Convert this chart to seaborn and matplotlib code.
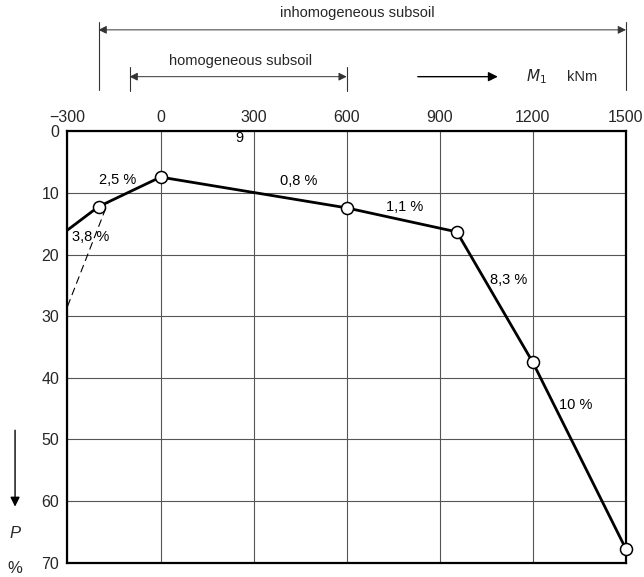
import matplotlib
matplotlib.use("Agg")
import matplotlib.pyplot as plt
import seaborn as sns
import pandas as pd

# Settlement curve P (%) against moment M1 (kNm)
moment = [-300, -200, 0, 600, 955, 1200, 1500]
settlement = [16.0, 12.2, 7.4, 12.4, 16.3, 37.5, 67.8]
marked = [False, True, True, True, True, True, True]

# dashed extrapolation of the first segment
dash_moment = [-300, -170]
dash_settlement = [28.4, 11.6]

# slope annotations: text, x, y
slope_text = ["2,5 %", "3,8 %", "0,8 %", "1,1 %", "8,3 %", "10 %", "9"]
slope_x = [-139, -227, 446, 788, 1123, 1339, 253]
slope_y = [7.9, 17.1, 8.1, 12.3, 24.1, 44.4, 1.1]

x_ticks = [-300, 0, 300, 600, 900, 1200, 1500]
x_tick_labels = ["\u2212300", "0", "300", "600", "900", "1200", "1500"]
y_ticks = [0, 10, 20, 30, 40, 50, 60, 70]

sns.set_theme(style="white")
plt.rcParams["font.family"] = ["Liberation Sans", "DejaVu Sans"]

df = pd.DataFrame({"M1": moment, "P": settlement, "marked": marked})

fig = plt.figure(figsize=(6.44, 5.77), dpi=100)
ax = fig.add_axes([0.1048, 0.0248, 0.9720 - 0.1048, 0.7721 - 0.0248])

sns.lineplot(data=df, x="M1", y="P", color="black", lw=2.0, ax=ax,
             sort=False, zorder=3)
sns.lineplot(x=dash_moment, y=dash_settlement, color="black", lw=0.8,
             linestyle=(0, (7, 4)), ax=ax, zorder=3)
pts = sns.scatterplot(data=df[df["marked"]], x="M1", y="P", s=75,
                      color="white", edgecolor="black", linewidth=1.1,
                      ax=ax, zorder=4)
for coll in ax.collections:
    coll.set_clip_on(False)

ax.set_xlim(-300, 1500)
ax.set_ylim(70, 0)
ax.set_xticks(x_ticks)
ax.set_xticklabels(x_tick_labels)
ax.set_yticks(y_ticks)
ax.xaxis.tick_top()
ax.tick_params(axis="x", length=0, pad=5, labelsize=11.5)
ax.tick_params(axis="y", length=0, pad=6, labelsize=11.5)
ax.set_xlabel("")
ax.set_ylabel("")
ax.grid(True, color="#555555", lw=0.8)
for sp in ax.spines.values():
    sp.set_color("black")
    sp.set_linewidth(1.6)

for t, x, y in zip(slope_text, slope_x, slope_y):
    ax.text(x, y, t, ha="center", va="center", fontsize=10.5, color="black",
            zorder=5)

# range indicators above the chart
line_kw = dict(color="#333333", lw=0.8, clip_on=False)
arrow_kw = dict(arrowstyle="<|-|>", color="#333333", lw=0.7,
                mutation_scale=12, shrinkA=0, shrinkB=0)

ax.plot([-200, -200], [-17.8, -6.7], **line_kw)
ax.plot([1500, 1500], [-17.8, -6.7], **line_kw)
ax.annotate("", xy=(1500, -16.5), xytext=(-200, -16.5),
            arrowprops=arrow_kw, annotation_clip=False)
ax.text(633, -19.2, "inhomogeneous subsoil", ha="center", va="center",
        fontsize=10.5)

ax.plot([-100, -100], [-10.5, -6.6], **line_kw)
ax.plot([600, 600], [-10.5, -6.6], **line_kw)
ax.annotate("", xy=(600, -8.9), xytext=(-100, -8.9),
            arrowprops=arrow_kw, annotation_clip=False)
ax.text(257, -11.4, "homogeneous subsoil", ha="center", va="center",
        fontsize=10.5)

ax.annotate("", xy=(1087, -8.9), xytext=(829, -8.9),
            arrowprops=dict(arrowstyle="-|>", color="black", lw=1.0,
                            mutation_scale=14, shrinkA=0, shrinkB=0),
            annotation_clip=False)
ax.text(1213, -8.9, "$M_1$", ha="center", va="center", fontsize=11)
ax.text(1358, -8.9, "kNm", ha="center", va="center", fontsize=10.5)

# axis direction marker at the left
ax.annotate("", xy=(-469, 60.9), xytext=(-469, 48.5),
            arrowprops=dict(arrowstyle="-|>", color="black", lw=1.0,
                            mutation_scale=14, shrinkA=0, shrinkB=0),
            annotation_clip=False)
ax.text(-469, 65.2, "P", ha="center", va="center", fontsize=12,
        style="italic")
ax.text(-469, 70.9, "%", ha="center", va="center", fontsize=12)

fig.savefig("out.png", dpi=100)
